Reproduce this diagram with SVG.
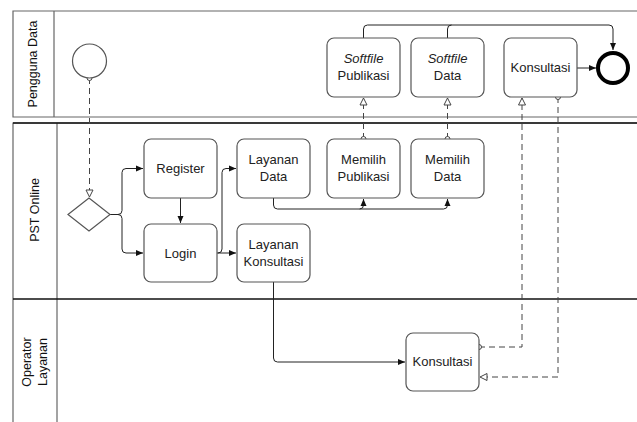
<svg xmlns="http://www.w3.org/2000/svg" width="637" height="422" viewBox="0 0 637 422">
  <style>
    .lane { fill: none; stroke: #666; stroke-width: 1.2; }
    .sep { fill: none; stroke: #111; stroke-width: 1.5; }
    .task { fill: #fff; stroke: #555; stroke-width: 1.2; }
    .tt { font-family: "Liberation Sans", Arial, sans-serif; font-size: 13px; fill: #222; text-anchor: middle; }
    .lt { font-family: "Liberation Sans", Arial, sans-serif; font-size: 12.5px; fill: #111; text-anchor: middle; }
    .flow { fill: none; stroke: #222; stroke-width: 1; }
    .msg { fill: none; stroke: #444; stroke-width: 1; stroke-dasharray: 6 4; }
  </style>
  <defs>
    <marker id="arr" markerWidth="8" markerHeight="8" refX="7" refY="4" orient="auto" markerUnits="userSpaceOnUse">
      <path d="M0,1 L7,4 L0,7 Z" fill="#111"/>
    </marker>
    <marker id="open" markerWidth="10" markerHeight="10" refX="8" refY="4.5" orient="auto" markerUnits="userSpaceOnUse">
      <path d="M1,1 L8,4.5 L1,8 Z" fill="#fff" stroke="#444" stroke-width="1"/>
    </marker>
    <marker id="dot" markerWidth="8" markerHeight="8" refX="4" refY="4" orient="auto" markerUnits="userSpaceOnUse">
      <circle cx="4" cy="4" r="2.5" fill="#fff" stroke="#444" stroke-width="1"/>
    </marker>
  </defs>

  <!-- lanes -->
  <g id="lanes">
    <path class="lane" d="M637,11 H13 V117 H637"/>
    <line class="lane" x1="54" y1="11" x2="54" y2="117"/>
    <path class="lane" d="M637,123 H13 V422"/>
    <line class="lane" x1="57" y1="123" x2="57" y2="422"/>
    <line class="sep" x1="13" y1="299" x2="637" y2="299"/>
    <line class="sep" x1="13" y1="123" x2="637" y2="123"/>
    <text class="lt" transform="translate(37,64) rotate(-90)">Pengguna Data</text>
    <text class="lt" transform="translate(39,210) rotate(-90)">PST Online</text>
    <text class="lt" transform="translate(31,362) rotate(-90)">Operator</text>
    <text class="lt" transform="translate(47,362) rotate(-90)">Layanan</text>
  </g>

  <!-- connectors -->
  <g id="connectors">
    <path class="msg" d="M89.5,78 V197" marker-start="url(#dot)" marker-end="url(#open)"/>
    <path class="flow" d="M110,214.5 H118 Q122,214.5 122,210.5 V172.5 Q122,168.5 126,168.5 H143" marker-end="url(#arr)"/>
    <path class="flow" d="M118,214.5 Q122,214.5 122,218.5 V249 Q122,253 126,253 H143" marker-end="url(#arr)"/>
    <path class="flow" d="M180.5,198 V223" marker-end="url(#arr)"/>
    <path class="flow" d="M217,253 H236" marker-end="url(#arr)"/>
    <path class="flow" d="M218,253 Q222,253 222,249 V172.5 Q222,168.5 226,168.5 H236" marker-end="url(#arr)"/>
    <path class="flow" d="M273.5,198 V205 Q273.5,209 277.5,209 H359.5 Q363.5,209 363.5,205 V199" marker-end="url(#arr)"/>
    <path class="flow" d="M359.5,209 H443.5 Q447.5,209 447.5,205 V199" marker-end="url(#arr)"/>
    <path class="flow" d="M273.5,282 V358 Q273.5,362 277.5,362 H405" marker-end="url(#arr)"/>
    <path class="flow" d="M363.5,38 V29 Q363.5,25 367.5,25 H609 Q613,25 613,29 V50" marker-end="url(#arr)"/>
    <path class="flow" d="M447.5,38 V29 Q447.5,25 451.5,25"/>
    <path class="flow" d="M577,68 H596" marker-end="url(#arr)"/>
    <path class="msg" d="M363.5,139 V98" marker-start="url(#dot)" marker-end="url(#open)"/>
    <path class="msg" d="M447.5,139 V98" marker-start="url(#dot)" marker-end="url(#open)"/>
    <path class="msg" d="M479,347 H522 V98" marker-start="url(#dot)" marker-end="url(#open)"/>
    <path class="msg" d="M558,97 V377 H480" marker-start="url(#dot)" marker-end="url(#open)"/>
  </g>

  <!-- events and gateway -->
  <g id="start">
    <circle cx="89.5" cy="61" r="17" fill="#fff" stroke="#555" stroke-width="1.2"/>
  </g>
  <g id="end">
    <circle cx="613" cy="68" r="15" fill="#fff" stroke="#000" stroke-width="4"/>
  </g>
  <g id="gateway">
    <polygon points="68,214.5 89,198 110,214.5 89,231" fill="#fff" stroke="#555" stroke-width="1.2"/>
  </g>

  <!-- tasks -->
  <g id="register">
    <rect class="task" x="144" y="139" width="73" height="59" rx="7"/>
    <text class="tt" x="180.5" y="173">Register</text>
  </g>
  <g id="login">
    <rect class="task" x="144" y="224" width="73" height="58" rx="7"/>
    <text class="tt" x="180.5" y="258">Login</text>
  </g>
  <g id="layanan-data">
    <rect class="task" x="237" y="139" width="73" height="59" rx="7"/>
    <text class="tt" x="273.5" y="164">Layanan</text>
    <text class="tt" x="273.5" y="181">Data</text>
  </g>
  <g id="layanan-konsultasi">
    <rect class="task" x="237" y="224" width="73" height="58" rx="7"/>
    <text class="tt" x="273.5" y="249">Layanan</text>
    <text class="tt" x="273.5" y="266">Konsultasi</text>
  </g>
  <g id="memilih-publikasi">
    <rect class="task" x="327" y="139" width="73" height="59" rx="7"/>
    <text class="tt" x="363.5" y="164">Memilih</text>
    <text class="tt" x="363.5" y="181">Publikasi</text>
  </g>
  <g id="memilih-data">
    <rect class="task" x="411" y="139" width="73" height="59" rx="7"/>
    <text class="tt" x="447.5" y="164">Memilih</text>
    <text class="tt" x="447.5" y="181">Data</text>
  </g>
  <g id="softfile-publikasi">
    <rect class="task" x="327" y="38" width="73" height="59" rx="7"/>
    <text class="tt" x="363.5" y="63" font-style="italic">Softfile</text>
    <text class="tt" x="363.5" y="80">Publikasi</text>
  </g>
  <g id="softfile-data">
    <rect class="task" x="411" y="38" width="73" height="59" rx="7"/>
    <text class="tt" x="447.5" y="63" font-style="italic">Softfile</text>
    <text class="tt" x="447.5" y="80">Data</text>
  </g>
  <g id="konsultasi-pengguna">
    <rect class="task" x="504" y="38" width="73" height="59" rx="7"/>
    <text class="tt" x="540.5" y="72">Konsultasi</text>
  </g>
  <g id="konsultasi-operator">
    <rect class="task" x="406" y="333" width="73" height="58" rx="7"/>
    <text class="tt" x="442.5" y="366">Konsultasi</text>
  </g>
</svg>
